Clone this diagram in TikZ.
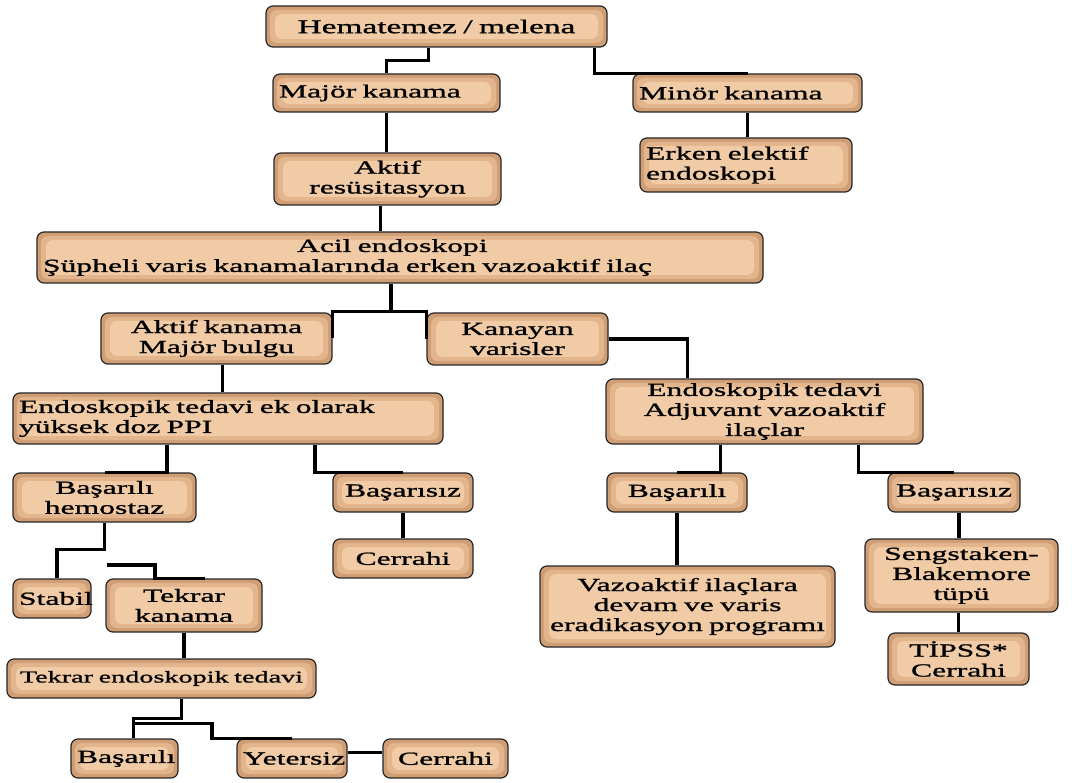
\documentclass[tikz,border=0pt]{standalone}
\usepackage{fontspec}
\setmainfont{Liberation Serif}[FakeStretch=1.71,FakeBold=1.2]
\newcommand\yazi{\fontsize{18.5}{20}\selectfont\hyphenpenalty=10000}
\definecolor{kenar}{RGB}{208,158,116}
\definecolor{orta}{RGB}{227,181,140}
\definecolor{ic}{RGB}{240,203,166}

\def\kutu#1#2#3#4#5#6#7{
	\pgfmathsetmacro\gen{#5-#3}
	\pgfmathsetmacro\yuk{#6-#4}
	\pgfmathsetmacro\yaz{#5-#3-12}
	\node[kutu,minimum width=\gen pt,minimum height=\yuk pt,text width=\yaz pt,#1] (#2) at ({(#3+#5)/2},{(#4+#6)/2}) {#7};
}

\begin{document}
\begin{tikzpicture}[x=1pt,y=-1pt,
	kutu/.style={rounded corners=7pt,draw=black!85,line width=1.2pt,fill=kenar,
		inner xsep=6pt,inner ysep=2pt,align=center,font=\yazi,
		path picture={
			\fill[orta] ([shift={(4pt,-4pt)}]path picture bounding box.north west) rectangle ([shift={(-4pt,4pt)}]path picture bounding box.south east);
			\fill[ic] ([shift={(9pt,-8pt)}]path picture bounding box.north west) rectangle ([shift={(-9pt,8pt)}]path picture bounding box.south east);
		}},
	hat/.style={line width=3.5pt,black}]

\fill[white] (0,0) rectangle (1074,783);
\useasboundingbox (0,0) rectangle (1074,783);

\kutu{font=\fontsize{19.5}{21}\selectfont}{hemat}{266}{6}{607}{47}{Hematemez / melena}
\kutu{align=left}{majork}{273}{74}{500}{112}{Majör kanama}
\kutu{align=left}{minork}{633}{74}{862}{112}{Minör kanama}
\kutu{align=left}{erken}{640}{138}{852}{192}{Erken elektif\\endoskopi}
\kutu{}{aktifres}{274}{153}{501}{205}{Aktif\\resüsitasyon}
\kutu{align=left}{acil}{37}{232}{763}{283}{\hspace*{254pt}Acil endoskopi\\Şüpheli varis kanamalarında erken vazoaktif ilaç}

\kutu{}{aktifkan}{101}{313}{332}{364}{Aktif kanama\\Majör bulgu}
\kutu{}{kanayan}{427}{313}{608}{365}{Kanayan\\varisler}
\kutu{align=left}{endoek}{13}{393}{443}{444}{Endoskopik tedavi ek olarak\\yüksek doz PPI}
\kutu{}{endotedavi}{606}{379}{923}{444}{Endoskopik tedavi\\Adjuvant vazoaktif\\ilaçlar}

\kutu{}{hemostaz}{13}{473}{196}{522}{Başarılı\\hemostaz}
\kutu{}{basarisizA}{333}{473}{473}{512}{Başarısız}
\kutu{}{cerrahiA}{333}{539}{473}{578}{Cerrahi}
\kutu{}{basariliB}{607}{473}{747}{512}{Başarılı}
\kutu{}{basarisizB}{888}{473}{1020}{512}{Başarısız}
\kutu{}{vazo}{540}{566}{835}{647}{Vazoaktif ilaçlara\\devam ve varis\\eradikasyon programı}
\kutu{}{seng}{865}{539}{1058}{612}{Sengstaken-\\Blakemore\\tüpü}
\kutu{}{tipss}{888}{633}{1029}{685}{TİPSS*\\Cerrahi}

\kutu{}{stabil}{13}{579}{91}{618}{Stabil}
\kutu{}{tekrar}{106}{579}{262}{632}{Tekrar\\kanama}
\kutu{font=\fontsize{16.5}{20}\selectfont}{tekrarendo}{7}{659}{316}{698}{Tekrar endoskopik tedavi}
\kutu{}{basariliC}{71}{739}{178}{778}{Başarılı}
\kutu{}{yetersiz}{237}{739}{347}{778}{Yetersiz}
\kutu{}{cerrahiC}{383}{739}{508}{778}{Cerrahi}

\coordinate (kopuk) at (107,565);

\draw[hat] ([xshift=-8pt]hemat.south) -- ++(0,13) -| (majork.north);
\draw[hat] ([xshift=158pt]hemat.south) |- (minork.north);
\draw[hat] (majork.south) -- (majork.south |- aktifres.north);
\draw[hat] ([xshift=-7pt]aktifres.south) -- ([xshift=-7pt]aktifres.south |- acil.north);
\draw[hat] (minork.south) -- (minork.south |- erken.north);

\draw[hat] ([xshift=-9pt]acil.south) -- ++(0,28) -| (aktifkan.east);
\draw[hat] ([xshift=-9pt]acil.south) -- ++(0,28) -| (kanayan.west);
\draw[hat] (kanayan.east) -| ([xshift=-77pt]endotedavi.north);
\draw[hat] ([xshift=6pt]aktifkan.south) -- ([xshift=6pt]aktifkan.south |- endoek.north);

\draw[hat] ([xshift=-61pt]endoek.south) |- (hemostaz.north);
\draw[hat] ([xshift=87pt]endoek.south) |- (basarisizA.north);
\draw[hat] (basarisizA.south) -- (cerrahiA.north);
\draw[hat] ([xshift=-44pt]endotedavi.south) |- (basariliB.north);
\draw[hat] ([xshift=94pt]endotedavi.south) |- (basarisizB.north);
\draw[hat] (basariliB.south) -- (basariliB.south |- vazo.north);
\draw[hat] ([xshift=5pt]basarisizB.south) -- ([xshift=5pt]basarisizB.south |- seng.north);
\draw[hat] (tipss.north |- seng.south) -- (tipss.north);

\draw[hat] (hemostaz.south) -- ++(0,27) -| ([xshift=5pt]stabil.north);
\draw[hat] (kopuk) -| ([xshift=-29pt]tekrar.north) -- ([xshift=21pt]tekrar.north);
\draw[hat] (tekrar.south) -- (tekrar.south |- tekrarendo.north);
\draw[hat] ([xshift=20pt]tekrarendo.south) -- ++(0,20) -| ([xshift=9pt]basariliC.north);
\draw[hat] ([xshift=9pt]basariliC.north) ++(0,-15) -| ([xshift=-80pt]yetersiz.north) -- (yetersiz.north);
\draw[hat,line width=3pt] ([yshift=6pt]yetersiz.east) -- ([yshift=6pt]cerrahiC.west);

\end{tikzpicture}
\end{document}
